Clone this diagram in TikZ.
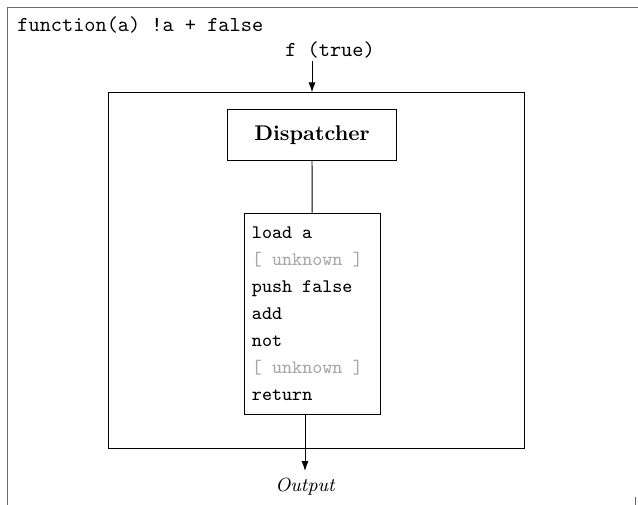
\documentclass[tikz,border=0pt]{standalone}
\usetikzlibrary{arrows.meta}
\definecolor{unk}{gray}{0.66}
\definecolor{framegray}{gray}{0.42}
% monospaced listing font
\newcommand\listingfont{\fontsize{9}{12.7}\selectfont\ttfamily}
% keep the full monospaced space inside ragged blocks
\newcommand\fixedspaces{\spaceskip=0.525em\xspaceskip=0.525em\relax}
\begin{document}
\begin{tikzpicture}[x=0.47pt,y=-0.47pt,
  box/.style={draw=black,line width=0.45pt,inner sep=0pt},
  arr/.style={line width=0.45pt,-{Latex[length=4.6pt,width=3.3pt]}},
  link/.style={line width=0.45pt}]
\useasboundingbox (0,0) rectangle (638,505);

% clipped outer frame
\draw[framegray,line width=0.8pt] (7.5,505) -- (7.5,7.5) -- (638,7.5);
\draw[framegray,line width=0.8pt] (635.5,497) -- (635.5,505);

% source and entry label
\node[anchor=base west,font=\ttfamily,inner sep=0pt] (sig) at (17,32) {function(a) !a + false};
\node[anchor=base,font=\ttfamily,inner sep=1pt] (fin) at (330,57) {f (true)};

% enclosing region
\node[box,minimum width=195.5pt,minimum height=167.1pt] (inner) at (316,270.5) {};

% dispatcher
\node[box,minimum width=79.6pt,minimum height=24.2pt,font=\bfseries] (disp) at (312,135) {Dispatcher};

% instruction block
\node[box,font=\listingfont,align=left,text width=56.6pt,inner xsep=3.6pt,
      minimum height=94.9pt] (code) at (312.2,314)
  {\fixedspaces load a\\
   \textcolor{unk}{[ unknown ]}\\
   push false\\
   add\\
   not\\
   \textcolor{unk}{[ unknown ]}\\
   return};

% output label
\node[anchor=base,font=\small\itshape] (out) at (305,492) {Output};

% connectors
\draw[arr] (fin.south -| disp.north) -- (disp.north |- inner.north);
\draw[link] (disp.south) -- (code.north);
\draw[arr] (code.south -| out.north) -- (out.north);
\end{tikzpicture}
\end{document}
